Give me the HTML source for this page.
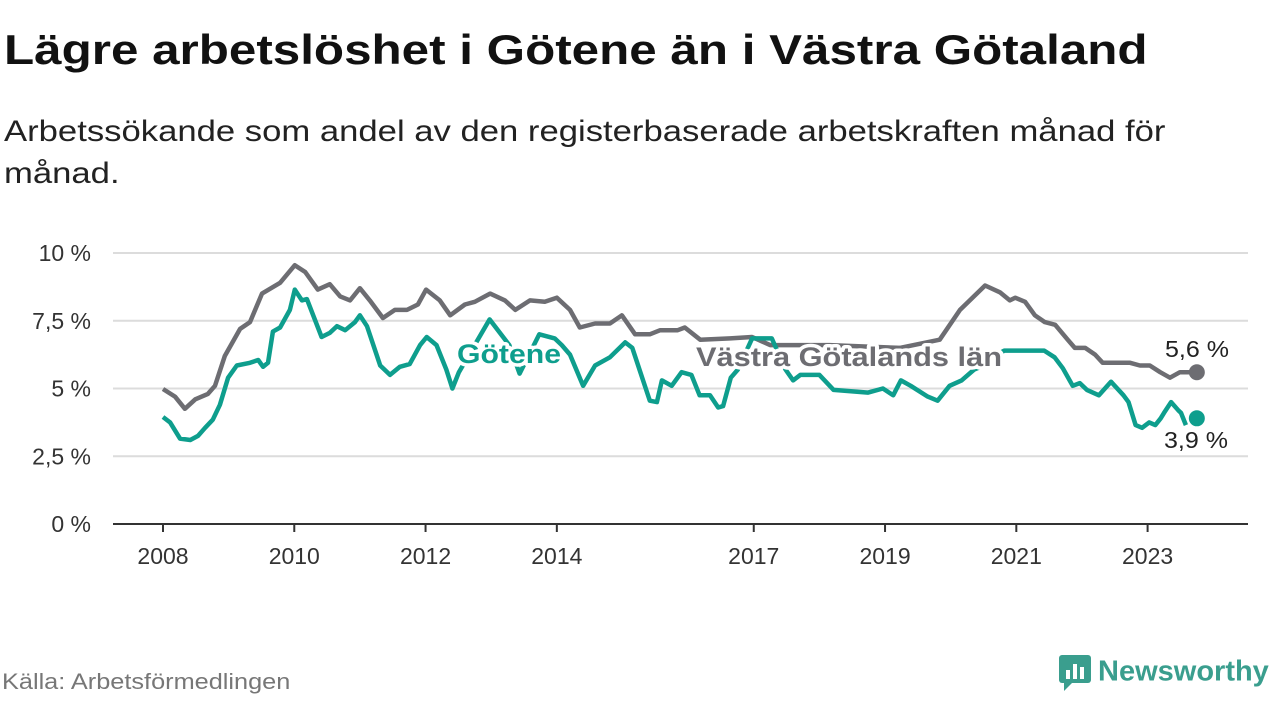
<!DOCTYPE html>
<html><head><meta charset="utf-8"><style>
body{margin:0;width:1280px;height:720px;background:#fff;font-family:"Liberation Sans","DejaVu Sans",sans-serif;overflow:hidden;position:relative}
h1{position:absolute;left:4px;top:26px;margin:0;font-size:42px;font-weight:bold;color:#111;transform-origin:0 0;transform:scaleX(1.175);white-space:nowrap}
.sub{position:absolute;left:4px;top:111px;font-size:30px;line-height:42px;color:#222;transform-origin:0 0;transform:scaleX(1.155);white-space:nowrap}
.src{position:absolute;left:2px;top:669px;font-size:22px;color:#777;transform-origin:0 0;transform:scaleX(1.15);white-space:nowrap}
.logo{position:absolute;left:1058px;top:654px;font-size:29px;font-weight:bold;color:#3a9e8e}
</style></head><body>
<h1>Lägre arbetslöshet i Götene än i Västra Götaland</h1>
<div class="sub">Arbetssökande som andel av den registerbaserade arbetskraften månad för<br>månad.</div>
<svg id="c" width="1280" height="720" style="position:absolute;left:0;top:0"></svg>
<div class="src">Källa: Arbetsförmedlingen</div>
<div class="logo"><svg width="34" height="38" style="vertical-align:middle;margin-right:6px"><rect x="1" y="1" width="32" height="28" rx="3" fill="#3a9e8e"/><polygon points="6,29 14,29 6,37" fill="#3a9e8e"/><rect x="8" y="16" width="4" height="9" fill="#fff"/><rect x="15" y="10" width="4" height="15" fill="#fff"/><rect x="22" y="13" width="4" height="12" fill="#fff"/></svg>Newsworthy</div>
<script>
const yTicks=[0,2.5,5,7.5,10];
const yTickLabels=["0 %","2,5 %","5 %","7,5 %","10 %"];
const xTicks=[2008,2010,2012,2014,2017,2019,2021,2023];
const grayMonths=[0,2.2,4,5.9,8.2,9.5,11.3,14.1,15.9,18.1,21.4,24.1,26,28.3,30.5,32.4,34.2,36,37.8,40.2,42.4,44.6,46.6,48.1,50.6,52.5,55.2,57,59.8,62.5,64.4,67.1,69.8,72,74.4,76.2,79,81.7,83.9,86.3,89,90.9,94.1,95.4,98.2,103.7,107.7,111,121.9,134.7,142,145.7,150.3,153,154.8,155.8,157.6,159.4,161.2,163.1,165.4,166.7,168.6,170.4,171.8,176.8,178.6,180.4,182.3,184.1,185.9,189];
const grayVals=[4.98,4.7,4.25,4.6,4.8,5.1,6.2,7.2,7.45,8.5,8.9,9.55,9.3,8.65,8.85,8.4,8.25,8.7,8.25,7.6,7.9,7.9,8.1,8.65,8.25,7.7,8.1,8.2,8.5,8.25,7.9,8.25,8.2,8.35,7.9,7.25,7.4,7.4,7.7,7.0,7.0,7.15,7.15,7.25,6.8,6.85,6.9,6.6,6.6,6.5,6.8,7.9,8.8,8.55,8.25,8.35,8.2,7.7,7.45,7.35,6.8,6.5,6.5,6.25,5.95,5.95,5.85,5.85,5.6,5.4,5.6,5.6];
const tealMonths=[0,1.3,3.1,5,6.4,7.7,9.1,10.4,11.9,13.5,15.9,17.4,18.3,19.2,20.1,21.4,23.2,24.1,25.4,26.3,29,30.5,31.8,33.3,35.1,36,37.3,39.7,41.5,43.3,45.1,47,48.2,50,51.8,52.9,54.1,59.7,63.3,65.2,68.8,71.6,72.9,74.4,76.8,79,81.7,84.5,85.8,89,90.3,91.2,93,94.8,96.6,98.1,100,101.5,102.4,103.8,105.1,107.7,111.3,113.8,115.2,116.5,120,122.6,128.9,131.6,133.5,134.9,136.7,139.8,141.6,143.8,146,148.3,150.1,152,153.8,161.1,163,164.5,166.3,167.6,168.9,171.1,173.3,175.6,176.5,177.8,179,180.3,181.4,182.4,183,184.3,185.6,186.1,187];
const tealVals=[3.95,3.75,3.15,3.1,3.25,3.55,3.85,4.4,5.4,5.85,5.95,6.05,5.8,5.95,7.1,7.25,7.9,8.65,8.25,8.3,6.9,7.05,7.3,7.15,7.45,7.7,7.3,5.85,5.5,5.8,5.9,6.6,6.9,6.6,5.7,5.0,5.6,7.55,6.6,5.55,7.0,6.85,6.6,6.25,5.1,5.85,6.15,6.7,6.5,4.55,4.5,5.3,5.1,5.6,5.5,4.75,4.75,4.3,4.35,5.4,5.7,6.85,6.85,5.7,5.3,5.5,5.5,4.95,4.85,5.0,4.75,5.3,5.1,4.7,4.55,5.1,5.3,5.7,5.85,6.2,6.4,6.4,6.15,5.75,5.1,5.2,4.95,4.75,5.25,4.75,4.5,3.65,3.55,3.75,3.65,3.9,4.1,4.5,4.2,4.1,3.65];
const endGray=5.6, endTeal=3.9;
const ns="http://www.w3.org/2000/svg",svg=document.getElementById('c');
const X0=163,PX=5.47,Y0=524,PY=27.1;
const xs=m=>X0+m*PX, ys=v=>Y0-v*PY;
function el(t,a,p){const e=document.createElementNS(ns,t);for(const k in a)e.setAttribute(k,a[k]);(p||svg).appendChild(e);return e;}
yTicks.forEach((t,i)=>{
  if(t>0){const g=el('line',{x1:113,x2:1248,y1:ys(t),y2:ys(t),stroke:'#dcdcdc','stroke-width':2});
  
  }
  const l=el('text',{x:91,y:ys(t)+8,'text-anchor':'end','font-size':23,fill:'#333'});l.textContent=yTickLabels[i];
  
  
});
const base=el('line',{x1:113,x2:1248,y1:Y0,y2:Y0,stroke:'#333','stroke-width':2});


xTicks.forEach(y=>{const x=xs((y-2008)*12);
  const tk=el('line',{x1:x,x2:x,y1:Y0,y2:Y0+8,stroke:'#333','stroke-width':2});
  
  
  const l=el('text',{x:x,y:564,'text-anchor':'middle','font-size':23,fill:'#333'});l.textContent=y;
  
  });
function line(ms,vs,col,name){const d=vs.map((v,i)=>(i?'L':'M')+xs(ms[i]).toFixed(1)+','+ys(v).toFixed(1)).join('');
  const p=el('path',{d:d,fill:'none',stroke:col,'stroke-width':4.5,'stroke-linejoin':'round'});
  
  }
line(grayMonths,grayVals,'#6d6d72','series-vastra-gotaland');
line(tealMonths,tealVals,'#0e9e8d','series-gotene');
const lastM=189;
const d1=el('circle',{cx:xs(lastM),cy:ys(endGray),r:8,fill:'#6d6d72'});


const d2=el('circle',{cx:xs(lastM),cy:ys(endTeal),r:8,fill:'#0e9e8d'});


function lbl(x,y,t,col,sz,b,anchor,len,name){const e=el('text',{x:x,y:y,'text-anchor':anchor,'font-size':sz,'font-weight':b?'bold':'normal',fill:col,stroke:'#fff','stroke-width':7,'paint-order':'stroke','stroke-linejoin':'round',textLength:len,lengthAdjust:'spacingAndGlyphs'});e.textContent=t;
  
  }
lbl(509,363,'Götene','#0e9e8d',27,true,'middle',104,'label-gotene');
lbl(849,366,'Västra Götalands län','#6d6d72',27,true,'middle',306,'label-vastra-gotaland');
lbl(1197,357,'5,6 %','#222',23,false,'middle',64,'end-value-vastra-gotaland');
lbl(1196,448,'3,9 %','#222',23,false,'middle',64,'end-value-gotene');
</script>
</body></html>
